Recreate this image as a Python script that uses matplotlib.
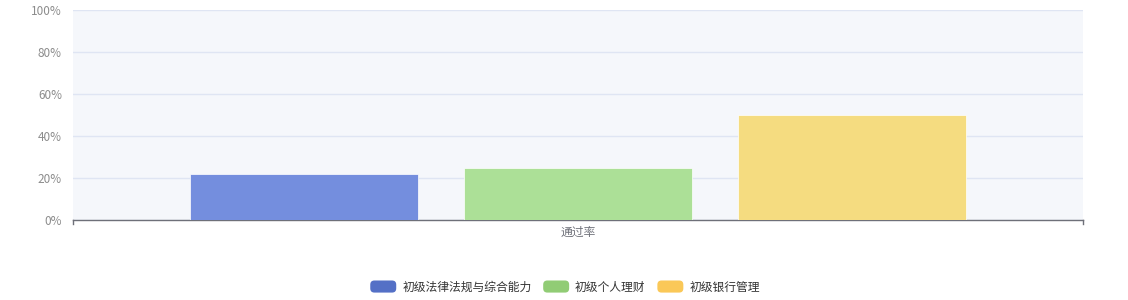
import matplotlib
matplotlib.use('Agg')
from matplotlib import pyplot as plt
from matplotlib.patches import FancyBboxPatch
from matplotlib.legend_handler import HandlerPatch

plt.rcParams['font.family'] = ['Noto Sans CJK SC', 'DejaVu Sans']

category = '通过率'
series = ['初级法律法规与综合能力', '初级个人理财', '初级银行管理']
values = [22, 25, 50]
colors = ['#5470c6', '#91cc75', '#fac858']
bar_colors = ['#748ede', '#ace097', '#f5dc80']
yticks = [0, 20, 40, 60, 80, 100]

W, H = 1128, 300
fig = plt.figure(figsize=(W / 100, H / 100), dpi=100)
ax = fig.add_axes([73 / W, 80 / H, 1010 / W, 210 / H])
ax.set_facecolor('#f5f7fb')

pos = [-1, 0, 1]
for p, v, c in zip(pos, values, bar_colors):
  ax.bar(p, v, width=228 / 274, color=c, edgecolor='#ffffff', linewidth=0.5, zorder=3)

ax.set_xlim(-1010 / 274 / 2, 1010 / 274 / 2)
ax.set_ylim(0, 100)
ax.set_yticks(yticks)
ax.set_yticklabels([str(t) + '%' for t in yticks], color='#8c8c8c', fontsize=8.5)
ax.tick_params(axis='y', length=0, pad=8)
ax.grid(axis='y', color='#dfe5f3', linewidth=1, zorder=0)
ax.set_xticks([])
for s in ['top', 'right', 'left']:
  ax.spines[s].set_visible(False)
ax.spines['bottom'].set_color('#6e7079')
ax.spines['bottom'].set_linewidth(1)

# end ticks of category axis
for xe in ax.get_xlim():
  ax.plot([xe, xe], [0, -2], color='#6e7079', linewidth=1, clip_on=False)
ax.text(0, -6, category, ha='center', va='center', fontsize=8.5, color='#6e7079')

class RoundHandler(HandlerPatch):
  def create_artists(self, legend, orig_handle, xdescent, ydescent, width, height, fontsize, trans):
    p = FancyBboxPatch((-xdescent, -ydescent), width, height,
                       boxstyle='round,pad=0,rounding_size=3',
                       facecolor=orig_handle.get_facecolor(), edgecolor='none', transform=trans)
    return [p]

handles = [plt.Rectangle((0, 0), 1, 1, facecolor=c) for c in colors]
leg = fig.legend(handles, series, loc='center', bbox_to_anchor=(565 / W, 1 - 287 / H),
                 ncol=3, frameon=False, fontsize=8.5, handlelength=2.2, handleheight=1.2,
                 handletextpad=0.5, columnspacing=1.0,
                 handler_map={plt.Rectangle: RoundHandler()})
for t in leg.get_texts():
  t.set_color('#333333')

fig.savefig('out.png', dpi=100)
